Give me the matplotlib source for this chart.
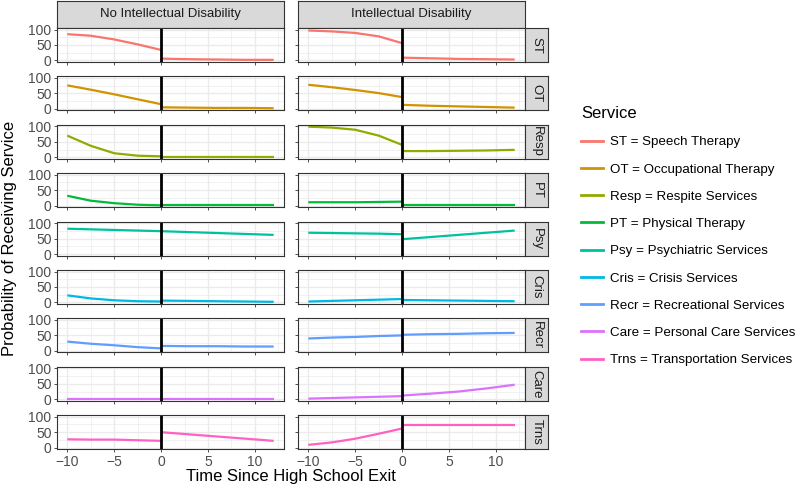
import matplotlib
matplotlib.use("Agg")
import matplotlib.pyplot as plt
from matplotlib.lines import Line2D

plt.rcParams['font.family'] = ['Liberation Sans', 'DejaVu Sans']

services = ["ST", "OT", "Resp", "PT", "Psy", "Cris", "Recr", "Care", "Trns"]
labels = ["ST = Speech Therapy", "OT = Occupational Therapy", "Resp = Respite Services",
          "PT = Physical Therapy", "Psy = Psychiatric Services", "Cris = Crisis Services",
          "Recr = Recreational Services", "Care = Personal Care Services",
          "Trns = Transportation Services"]
colors = ["#F8766D", "#D39200", "#93AA00", "#00BA38", "#00C19F", "#00B9E3",
          "#619CFF", "#DB72FB", "#FF61C3"]
groups = ["No Intellectual Disability", "Intellectual Disability"]

x_pre = [-10, -7.5, -5, -2.5, 0]
x_post = [0, 3, 6, 9, 12]

# No Intellectual Disability
noid_pre = {
    "ST":   [85, 80, 68, 52, 34],
    "OT":   [76, 62, 47, 31, 15],
    "Resp": [70, 37, 13, 5, 3],
    "PT":   [32, 16, 8, 3, 1],
    "Psy":  [82, 80, 78, 76, 74],
    "Cris": [23, 13, 7, 4, 3],
    "Recr": [30, 23, 18, 12, 8],
    "Care": [1, 1, 1, 1, 1],
    "Trns": [27, 26, 26, 24, 22],
}
noid_post = {
    "ST":   [6, 4, 3, 2, 2],
    "OT":   [5, 4, 3, 3, 2],
    "Resp": [2, 2, 2, 2, 2],
    "PT":   [1, 1, 1, 1, 1],
    "Psy":  [74, 71, 68, 65, 62],
    "Cris": [6, 5, 4, 3, 2],
    "Recr": [16, 15, 15, 14, 14],
    "Care": [1, 1, 1, 1, 1],
    "Trns": [50, 43, 36, 29, 22],
}
# Intellectual Disability
id_pre = {
    "ST":   [97, 94, 89, 78, 56],
    "OT":   [78, 70, 61, 51, 38],
    "Resp": [99, 96, 89, 70, 40],
    "PT":   [11, 11, 11, 12, 13],
    "Psy":  [69, 68, 67, 66, 64],
    "Cris": [3, 5, 7, 9, 11],
    "Recr": [40, 43, 45, 48, 50],
    "Care": [2, 4, 6, 8, 10],
    "Trns": [9, 17, 29, 45, 62],
}
id_post = {
    "ST":   [9, 7, 5, 4, 3],
    "OT":   [13, 10, 8, 6, 4],
    "Resp": [20, 20, 21, 22, 24],
    "PT":   [3, 3, 3, 3, 3],
    "Psy":  [48, 55, 62, 69, 76],
    "Cris": [8, 7, 6, 5, 4],
    "Recr": [52, 54, 55, 57, 58],
    "Care": [12, 18, 25, 35, 47],
    "Trns": [72, 72, 72, 72, 72],
}
pre_data = [noid_pre, id_pre]
post_data = [noid_post, id_post]

W, H = 800, 493
fig = plt.figure(figsize=(W / 100, H / 100), dpi=100)

def fx(px):
    return px / W

def fy(py):
    return 1 - py / H

col_left = [57, 298]
col_w = 227
row_top0 = 28
row_h = 34
row_stride = 48.4
border = "#333333"
grid_c = "#EBEBEB"

for c in range(2):
    # top strip
    sax = fig.add_axes([fx(col_left[c]), fy(row_top0), fx(col_w), 27 / H])
    sax.set_facecolor("#D9D9D9")
    sax.set_xticks([]); sax.set_yticks([])
    for s in sax.spines.values():
        s.set_color(border); s.set_linewidth(0.8)
    sax.text(0.5, 0.5, groups[c], ha="center", va="center", fontsize=9.5,
             color="#1A1A1A", transform=sax.transAxes)
    for r, svc in enumerate(services):
        top = row_top0 + r * row_stride
        ax = fig.add_axes([fx(col_left[c]), fy(top + row_h), fx(col_w), row_h / H])
        ax.set_xlim(-11.1, 13.1)
        ax.set_ylim(-5, 105)
        ax.set_xticks([-10, -5, 0, 5, 10])
        ax.set_xticks([-7.5, -2.5, 2.5, 7.5, 12.5], minor=True)
        ax.set_yticks([0, 50, 100])
        ax.set_yticks([25, 75], minor=True)
        ax.grid(True, which="major", color=grid_c, lw=1.0)
        ax.grid(True, which="minor", color=grid_c, lw=0.5)
        ax.set_axisbelow(True)
        for s in ax.spines.values():
            s.set_color(border); s.set_linewidth(0.8)
        ax.tick_params(which="major", length=2.5, width=0.6, color=border,
                       labelsize=10, labelcolor="#4D4D4D", pad=1.5)
        ax.tick_params(which="minor", length=0)
        if c != 0:
            ax.set_yticklabels([])
        if r != len(services) - 1:
            ax.set_xticklabels([])
        ax.plot(x_pre, pre_data[c][svc], color=colors[r], lw=1.6, solid_capstyle="butt")
        ax.plot(x_post, post_data[c][svc], color=colors[r], lw=1.6, solid_capstyle="butt")
        ax.axvline(0, color="black", lw=2.0)
        if c == 1:
            rax = fig.add_axes([fx(col_left[c] + col_w), fy(top + row_h), fx(23), row_h / H])
            rax.set_facecolor("#D9D9D9")
            rax.set_xticks([]); rax.set_yticks([])
            for s in rax.spines.values():
                s.set_color(border); s.set_linewidth(0.8)
            rax.text(0.5, 0.5, svc, ha="center", va="center", rotation=-90,
                     fontsize=9.5, color="#1A1A1A", transform=rax.transAxes)

fig.text(fx(10), fy(238), "Probability of Receiving Service", rotation=90,
         ha="center", va="center", fontsize=12)
fig.text(fx(291), fy(477), "Time Since High School Exit", ha="center", va="center",
         fontsize=12)

handles = [Line2D([], [], color=col, lw=2) for col in colors]
leg = fig.legend(handles, labels, loc="upper left", bbox_to_anchor=(fx(581), fy(106)),
                 frameon=False, title="Service", title_fontsize=12, fontsize=9.6,
                 handlelength=1.65, handletextpad=0.5, labelspacing=1.12,
                 borderaxespad=0, borderpad=0)
leg._legend_box.align = "left"

fig.savefig("out.png", dpi=100)
